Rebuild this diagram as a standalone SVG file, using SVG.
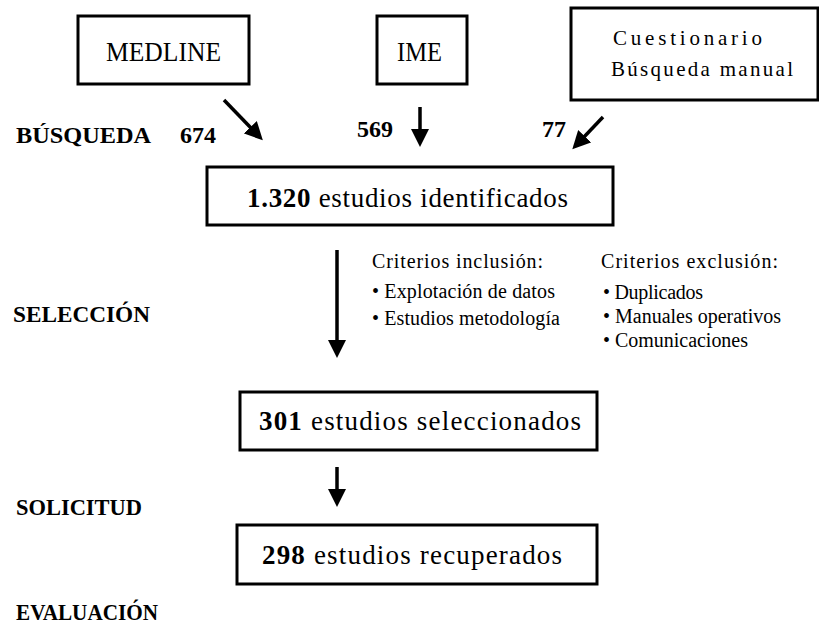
<svg xmlns="http://www.w3.org/2000/svg" width="819" height="632" viewBox="0 0 819 632" font-family="'Liberation Serif', 'Times New Roman', serif">
<style>
text{font-family:"Liberation Serif","Times New Roman",serif;fill:#000}
.box{fill:#fff;stroke:#000;stroke-width:3}
.lbl{font-weight:bold;font-size:24px}
.num{font-weight:bold;font-size:24px}
.bt{font-size:27px}
.src{font-size:27px}
.cue{font-size:21px}
.crit{font-size:20px}
.arr{stroke:#000;stroke-width:3.5;fill:none;marker-end:url(#ah)}
</style>
<defs>
<marker id="ah" viewBox="0 0 18 18" refX="1" refY="9" markerWidth="18" markerHeight="18" markerUnits="userSpaceOnUse" orient="auto">
<path d="M0,0 L18,9 L0,18 z" fill="#000"/>
</marker>
</defs>
<rect width="819" height="632" fill="#fff"/>
<g id="stage-labels">
<text class="lbl" x="16" y="143" textLength="135" lengthAdjust="spacingAndGlyphs">BÚSQUEDA</text>
<text class="lbl" x="13" y="322" textLength="137" lengthAdjust="spacingAndGlyphs">SELECCIÓN</text>
<text class="lbl" x="16" y="515" textLength="126" lengthAdjust="spacingAndGlyphs">SOLICITUD</text>
<text class="lbl" x="16" y="620" textLength="142" lengthAdjust="spacingAndGlyphs">EVALUACIÓN</text>
</g>
<g id="medline">
<rect class="box" x="78" y="16" width="171" height="68"/>
<text class="src" x="106" y="61" textLength="115" lengthAdjust="spacingAndGlyphs">MEDLINE</text>
</g>
<g id="ime">
<rect class="box" x="377" y="16" width="90" height="68"/>
<text class="src" x="397" y="61" textLength="45" lengthAdjust="spacingAndGlyphs">IME</text>
</g>
<g id="cuestionario">
<rect class="box" x="571" y="8" width="247" height="92"/>
<text class="cue" x="613" y="45" textLength="149" lengthAdjust="spacing">Cuestionario</text>
<text class="cue" x="611" y="76" textLength="182" lengthAdjust="spacing">Búsqueda manual</text>
</g>
<g id="counts">
<text class="num" x="180" y="143">674</text>
<text class="num" x="357" y="137">569</text>
<text class="num" x="542" y="137">77</text>
</g>
<g id="identificados">
<rect class="box" x="207" y="167" width="406" height="58"/>
<text class="bt" x="247" y="207" textLength="321" lengthAdjust="spacing"><tspan font-weight="bold">1.320</tspan> estudios identificados</text>
</g>
<g id="criterios">
<text class="crit" x="372" y="268" textLength="171" lengthAdjust="spacing">Criterios inclusión:</text>
<text class="crit" x="372" y="298" textLength="183" lengthAdjust="spacing">• Explotación de datos</text>
<text class="crit" x="372" y="325" textLength="188" lengthAdjust="spacing">• Estudios metodología</text>
<text class="crit" x="601" y="268" textLength="177" lengthAdjust="spacing">Criterios exclusión:</text>
<text class="crit" x="603" y="299" textLength="100" lengthAdjust="spacing">• Duplicados</text>
<text class="crit" x="603" y="323" textLength="178" lengthAdjust="spacing">• Manuales operativos</text>
<text class="crit" x="603" y="347" textLength="145" lengthAdjust="spacing">• Comunicaciones</text>
</g>
<g id="seleccionados">
<rect class="box" x="240" y="392" width="357" height="58"/>
<text class="bt" x="259" y="430" textLength="322" lengthAdjust="spacing"><tspan font-weight="bold">301</tspan> estudios seleccionados</text>
</g>
<g id="recuperados">
<rect class="box" x="237" y="525" width="360" height="59"/>
<text class="bt" x="262" y="564" textLength="300" lengthAdjust="spacing"><tspan font-weight="bold">298</tspan> estudios recuperados</text>
</g>
<g id="connectors">
<line class="arr" x1="224" y1="100" x2="251" y2="128"/>
<line class="arr" x1="420" y1="107" x2="420" y2="130"/>
<line class="arr" x1="603" y1="117" x2="584" y2="137"/>
<line class="arr" x1="337" y1="250" x2="337" y2="341"/>
<line class="arr" x1="337" y1="467" x2="337" y2="490"/>
</g>
</svg>
